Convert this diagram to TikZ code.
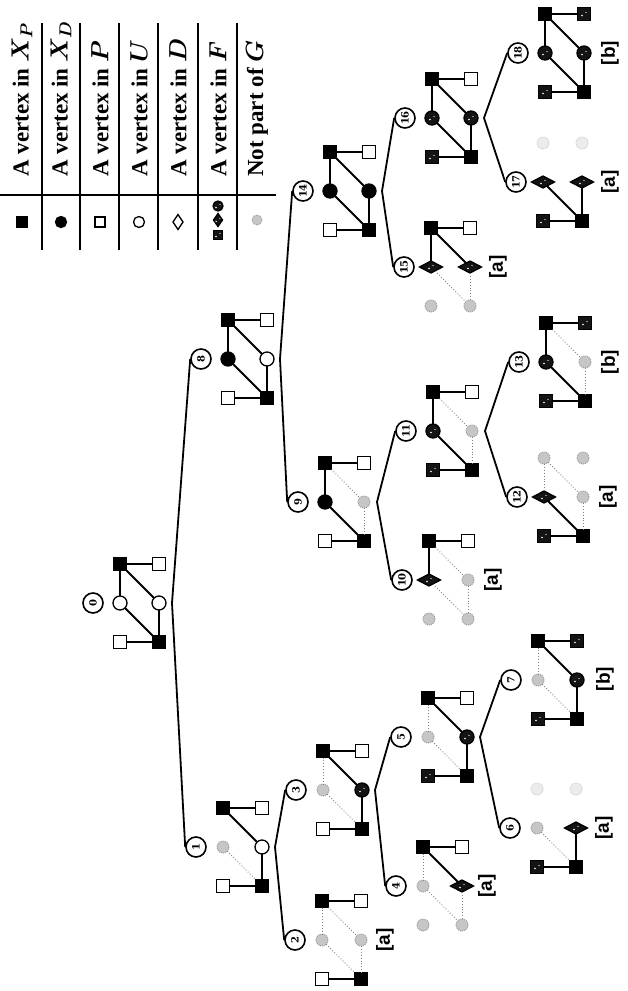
\documentclass[tikz,border=0pt]{standalone}
\usepackage{fontspec}
\usepackage{graphicx}
\setmainfont{DejaVu Serif}
\newfontfamily\tagfont{Liberation Sans}
\newfontfamily\lgfont{Liberation Serif}
\usetikzlibrary{shapes.geometric}
\tikzset{
  vtx/.style={inner sep=0pt, outer sep=0pt, line width=1.3pt},
  xp/.style={vtx, rectangle, minimum size=13pt, fill=black, draw=black},
  pv/.style={vtx, rectangle, minimum size=13pt, fill=white, draw=black},
  xd/.style={vtx, circle, minimum size=14pt, fill=black, draw=black},
  uv/.style={vtx, circle, minimum size=14pt, fill=white, draw=black},
  dv/.style={vtx, diamond, minimum width=10pt, minimum height=15pt, fill=white, draw=black},
  fsp/.style={path picture={\fill[white] ([shift={(-2pt,-1.5pt)}]path picture bounding box.center) circle (0.8pt) ([shift={(2pt,1.5pt)}]path picture bounding box.center) circle (0.7pt);}},
  fs/.style={xp, fill=black!92, fsp},
  fc/.style={xd, fill=black!92, fsp},
  fd/.style={vtx, diamond, minimum width=23pt, minimum height=12pt, fill=black!92, draw=black, fsp},
  ng/.style={vtx, circle, minimum size=12pt, fill=gray!45, draw=gray!75, line width=1pt, densely dotted},
  ngf/.style={ng, fill=gray!15, draw=gray!35},
  es/.style={line width=1.8pt},
  ed/.style={line width=0.9pt, dotted, gray},
  en/.style={draw=none},
  lab/.style={circle, draw, line width=1.6pt, minimum size=20pt, inner sep=0pt, font=\bfseries\fontsize{10}{10}\selectfont},
  conn/.style={line width=1.8pt},
  tagl/.style={rotate=90, font=\tagfont\bfseries\fontsize{19}{19}\selectfont},
  lgtext/.style={rotate=90, anchor=west, inner sep=0pt, font=\lgfont\bfseries\boldmath\fontsize{23}{23}\selectfont},
  lgline/.style={line width=1.4pt},
}
\newcommand\grph[9]{%
  \node[#4] (v#1a) at (#2,#3-39) {};
  \node[#5] (v#1b) at (#2+39,#3-39) {};
  \node[#6] (v#1c) at (#2,#3) {};
  \node[#7] (v#1d) at (#2+39,#3) {};
  \node[#8] (v#1e) at (#2,#3+39) {};
  \node[#9] (v#1f) at (#2+39,#3+39) {};
  \node[lab] (v#1n) at (#2-27,#3) {\rotatebox{90}{#1}};
  \coordinate (p#1) at (#2+52,#3);
}
\newcommand\edg[7]{%
  \draw[#2] (v#1a) -- (v#1b);
  \draw[#3] (v#1a) -- (v#1c);
  \draw[#4] (v#1a) -- (v#1d);
  \draw[#5] (v#1c) -- (v#1f);
  \draw[#6] (v#1d) -- (v#1f);
  \draw[#7] (v#1e) -- (v#1f);
}
\begin{document}
\begin{tikzpicture}[x=1pt, y=-1pt]
\path[fill=white] (0,0) rectangle (627,991);
\useasboundingbox (0,0) rectangle (627,991);

% legend
\draw[lgline] (0,195) -- (276,195);
\foreach \lx in {42,80,119,158,198,237} \draw[lgline] (\lx,23) -- (\lx,250);
\node[xp, minimum size=10pt] (lg1) at (22,222) {};
\node[xd, minimum size=11pt] (lg2) at (61,222) {};
\node[pv, minimum size=10pt] (lg3) at (100,222) {};
\node[uv, minimum size=11pt] (lg4) at (139,222) {};
\node[dv] (lg5) at (178,222) {};
\node[fs, minimum size=9pt] (lg6a) at (218,235) {};
\node[fd, minimum width=9pt, minimum height=13pt] (lg6b) at (218,220) {};
\node[fc, minimum size=10pt] (lg6c) at (218,206) {};
\node[ng, minimum size=10pt] (lg7) at (257,220) {};
\node[lgtext] (t1) at (22,177) {A vertex in $X_P$};
\node[lgtext] (t2) at (61,177) {A vertex in $X_D$};
\node[lgtext] (t3) at (100,177) {A vertex in $P$};
\node[lgtext] (t4) at (139,177) {A vertex in $U$};
\node[lgtext] (t5) at (178,177) {A vertex in $D$};
\node[lgtext] (t6) at (218,177) {A vertex in $F$};
\node[lgtext] (t7) at (257,177) {Not part of $G$};

% states
\grph{0}{120}{603}{xp}{pv}{uv}{uv}{pv}{xp}
\edg{0}{es}{es}{es}{es}{es}{es}
\grph{1}{223}{847}{xp}{pv}{ng}{uv}{pv}{xp}
\edg{1}{es}{en}{es}{ed}{es}{es}
\grph{2}{322}{940}{xp}{pv}{ng}{ng}{pv}{xp}
\edg{2}{es}{ed}{ed}{ed}{ed}{es}
\grph{3}{323}{790}{xp}{pv}{ng}{fc}{pv}{xp}
\edg{3}{es}{ed}{es}{ed}{es}{es}
\grph{4}{423}{886}{xp}{pv}{ng}{fd}{ng}{ng}
\edg{4}{es}{ed}{es}{ed}{ed}{en}
\grph{5}{428}{737}{xp}{pv}{ng}{fc}{fs}{xp}
\edg{5}{es}{ed}{es}{ed}{es}{es}
\grph{6}{537}{828}{ngf}{ngf}{ng}{fd}{fs}{xp}
\edg{6}{en}{en}{en}{ed}{es}{es}
\grph{7}{538}{680}{xp}{fs}{ng}{fc}{fs}{xp}
\edg{7}{es}{ed}{es}{ed}{es}{es}
\grph{8}{228}{359}{xp}{pv}{xd}{uv}{pv}{xp}
\edg{8}{es}{es}{es}{es}{es}{es}
\grph{9}{325}{502}{xp}{pv}{xd}{ng}{pv}{xp}
\edg{9}{es}{es}{ed}{es}{ed}{es}
\grph{10}{429}{580}{xp}{pv}{fd}{ng}{ng}{ng}
\edg{10}{es}{es}{ed}{ed}{ed}{en}
\grph{11}{433}{431}{xp}{pv}{fc}{ng}{fs}{xp}
\edg{11}{es}{es}{ed}{es}{ed}{es}
\grph{12}{544}{497}{ng}{ng}{fd}{ng}{fs}{xp}
\edg{12}{en}{ed}{ed}{es}{ed}{es}
\grph{13}{546}{362}{xp}{fs}{fc}{ng}{fs}{xp}
\edg{13}{es}{es}{ed}{es}{ed}{es}
\grph{14}{330}{191}{xp}{pv}{xd}{xd}{pv}{xp}
\edg{14}{es}{es}{es}{es}{es}{es}
\grph{15}{431}{267}{xp}{pv}{fd}{fd}{ng}{ng}
\edg{15}{es}{es}{es}{ed}{ed}{en}
\grph{16}{432}{118}{xp}{pv}{fc}{fc}{fs}{xp}
\edg{16}{es}{es}{es}{es}{es}{es}
\grph{17}{543}{182}{ngf}{ngf}{fd}{fd}{fs}{xp}
\edg{17}{en}{en}{en}{es}{es}{es}
\grph{18}{545}{53}{xp}{fs}{fc}{fc}{fs}{xp}
\edg{18}{es}{es}{es}{es}{es}{es}

% tags
\node[tagl] (g2) at (385,940) {[a]};
\node[tagl] (g4) at (487,886) {[a]};
\node[tagl] (g6) at (604,828) {[a]};
\node[tagl] (g7) at (605,679) {[b]};
\node[tagl] (g10) at (493,580) {[a]};
\node[tagl] (g12) at (608,497) {[a]};
\node[tagl] (g13) at (610,362) {[b]};
\node[tagl] (g15) at (498,267) {[a]};
\node[tagl] (g17) at (610,182) {[a]};
\node[tagl] (g18) at (610,53) {[b]};

% tree connectors
\draw[conn] (v1n.west) -- (p0) -- (v8n.west);
\draw[conn] (v2n.west) -- (p1) -- (v3n.west);
\draw[conn] (v4n.west) -- (p3) -- (v5n.west);
\draw[conn] (v6n.west) -- (p5) -- (v7n.west);
\draw[conn] (v9n.west) -- (p8) -- (v14n.west);
\draw[conn] (v10n.west) -- (p9) -- (v11n.west);
\draw[conn] (v12n.west) -- (p11) -- (v13n.west);
\draw[conn] (v15n.west) -- (p14) -- (v16n.west);
\draw[conn] (v17n.west) -- (p16) -- (v18n.west);
\end{tikzpicture}
\end{document}
